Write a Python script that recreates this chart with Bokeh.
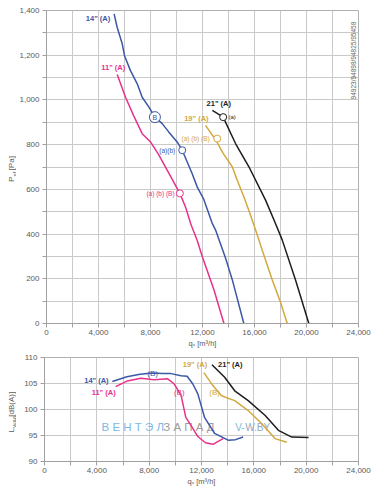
import math
from bokeh.plotting import figure
from bokeh.layouts import column, row
from bokeh.models import Range1d, NumeralTickFormatter, FixedTicker
from bokeh.core.properties import value
from bokeh.embed import file_html
from bokeh.resources import INLINE

FONT = "Liberation Sans"
BLUE = "#3b57a8"
PINK = "#e8318b"
GOLD = "#d2a83f"
BLACK = "#1e1e1e"
GRID = "#c9c9c9"
TICKC = "#5a5a5a"

# ---------------- pressure curves (q in m3/h, P in Pa) ----------------
q_14 = [5200, 5440, 5830, 6000, 6460, 6980, 7360, 7880, 8340, 8900, 9400, 10050, 10440,
        11200, 11600, 12100, 12740, 13000, 13770, 14290, 15180]
p_14 = [1385, 1324, 1250, 1198, 1131, 1072, 1012, 968, 923, 894, 857, 812, 775,
        671, 610, 555, 449, 419, 293, 196, 0]

q_11 = [5440, 6080, 6700, 7360, 8000, 8650, 9420, 10260, 10700, 11100, 11600, 11980, 12880, 13650]
p_11 = [1114, 1012, 930, 849, 812, 753, 671, 582, 520, 445, 370, 300, 151, 0]

q_19 = [12230, 13000, 13600, 14290, 14670, 15180, 15600, 16080, 16700, 17360, 18000, 18520]
p_19 = [886, 823, 760, 701, 641, 567, 500, 419, 310, 196, 95, 0]

q_21 = [12760, 13590, 14540, 15570, 16850, 17500, 18130, 19150, 20180]
p_21 = [953, 923, 805, 701, 552, 463, 374, 196, 0]

# ---------------- sound power curves (q in m3/h, L in dB(A)) ----------------
lq_14 = [5185, 6300, 7300, 8260, 9000, 9670, 10440, 10900, 11340, 11720, 12230, 13000, 14030, 14600, 15180]
lw_14 = [105.4, 106.3, 106.8, 107.0, 106.9, 106.9, 106.5, 106.4, 104.9, 103.0, 98.5, 95.4, 94.1, 94.2, 94.7]

lq_11 = [5440, 6340, 7360, 8380, 9420, 9920, 10440, 10800, 11300, 11720, 12300, 12880, 13650]
lw_11 = [104.4, 105.5, 106.0, 105.7, 105.9, 104.9, 102.7, 98.5, 96.5, 94.8, 93.6, 93.3, 94.4]

lq_19 = [12180, 12620, 12870, 13510, 13770, 14540, 15570, 16590, 17620, 18520]
lw_19 = [107.1, 105.5, 104.6, 102.7, 102.4, 101.7, 99.8, 97.3, 94.4, 93.7]

lq_21 = [12800, 13770, 14540, 15570, 16850, 17880, 18900, 20180]
lw_21 = [108.6, 106.2, 103.6, 101.7, 98.9, 96.0, 94.7, 94.6]

# ticks
x_ticks = [0, 4000, 8000, 12000, 16000, 20000, 24000]
x_minor = [2000, 6000, 10000, 14000, 18000, 22000]
p_ticks = [0, 200, 400, 600, 800, 1000, 1200, 1400]
p_minor = [100, 300, 500, 700, 900, 1100, 1300]
l_ticks = [90, 95, 100, 105, 110]

series_labels = ['14" (A)', '11" (A)', '19" (A)', '21" (A)']

STRIP_W = 16
MAIN_W = 384 - STRIP_W
TOP_H = 350
BOT_H = 141
TOP_B = dict(min_border_left=28, min_border_right=26, min_border_top=10, min_border_bottom=26)
BOT_B = dict(min_border_left=28, min_border_right=26, min_border_top=7, min_border_bottom=30)


def style_axes(fig, yt, ym):
    fig.xaxis.ticker = FixedTicker(ticks=x_ticks, minor_ticks=x_minor)
    fig.yaxis.ticker = FixedTicker(ticks=yt, minor_ticks=ym)
    fig.xgrid.ticker = FixedTicker(ticks=x_ticks, minor_ticks=x_minor)
    fig.ygrid.ticker = FixedTicker(ticks=yt, minor_ticks=ym)
    for g in (fig.xgrid, fig.ygrid):
        g.grid_line_color = GRID
        g.grid_line_width = 1
        g.minor_grid_line_color = GRID
        g.minor_grid_line_width = 1
    for ax in (fig.xaxis, fig.yaxis):
        ax.axis_line_color = "#a0a0a0"
        ax.major_tick_line_color = "#a0a0a0"
        ax.minor_tick_line_color = "#a0a0a0"
        ax.major_tick_out = 4
        ax.major_tick_in = 0
        ax.minor_tick_out = 4
        ax.minor_tick_in = 0
        ax.major_label_text_font = FONT
        ax.major_label_text_font_size = "8px"
        ax.major_label_text_color = TICKC
        ax.major_label_standoff = 3
        ax.axis_label_text_font = FONT
        ax.axis_label_text_font_size = "7.5px"
        ax.axis_label_text_font_style = "normal"
        ax.axis_label_text_color = TICKC
        ax.axis_label_standoff = 1
    fig.xaxis.major_label_standoff = 2
    fig.xaxis.formatter = NumeralTickFormatter(format="0,0")
    fig.yaxis.formatter = NumeralTickFormatter(format="0,0")
    fig.outline_line_color = "#b0b0b0"


def txt(fig, x, y, t, color, size="7.5px", align="left", style="bold", angle=0.0):
    fig.text(x=[x], y=[y], text=[t], text_color=color, text_font=value(FONT),
             text_font_size=size, text_align=align, text_baseline="middle",
             text_font_style=style, angle=angle)


def strip(yr, h, borders):
    s = figure(width=STRIP_W, height=h, x_range=Range1d(0, STRIP_W), y_range=yr,
               x_axis_type=None, y_axis_type=None, output_backend="svg", toolbar_location=None,
               min_border_left=0, min_border_right=0,
               min_border_top=borders["min_border_top"], min_border_bottom=borders["min_border_bottom"])
    s.outline_line_color = None
    s.xgrid.visible = False
    s.ygrid.visible = False
    return s


# ====================== top chart ======================
p = figure(width=MAIN_W, height=TOP_H, x_range=Range1d(0, 24000), y_range=Range1d(0, 1400),
           output_backend="svg", toolbar_location=None, **TOP_B)
style_axes(p, p_ticks, p_minor)
p.xaxis.axis_label = "qᵥ [m³/h]"

for qs, ps, c in ((q_11, p_11, PINK), (q_14, p_14, BLUE), (q_19, p_19, GOLD), (q_21, p_21, BLACK)):
    p.line(qs, ps, line_color=c, line_width=1.5)

txt(p, 4900, 1363, series_labels[0], BLUE, align="right")
txt(p, 5130, 1145, series_labels[1], PINK, align="center")
txt(p, 11530, 918, series_labels[2], GOLD, align="center")
txt(p, 13250, 982, series_labels[3], BLACK, align="center")

p.scatter([q_14[8]], [p_14[8]], size=11, marker="circle", fill_color="white", line_color=BLUE, line_width=1)
txt(p, q_14[8], p_14[8], "B", BLUE, size="7px", align="center", style="normal")
p.scatter([10440, 10260, 13130, 13590], [775, 582, 827, 923], size=7, marker="circle",
          fill_color="white", line_color=[BLUE, PINK, GOLD, BLACK], line_width=1)
txt(p, 9900, 775, "(a)(b)", BLUE, size="6.5px", align="right", style="normal")
txt(p, 9850, 582, "(a) (b) (B)", PINK, size="6.5px", align="right", style="normal")
txt(p, 12550, 827, "(a) (b) (B)", GOLD, size="6.5px", align="right", style="normal")
txt(p, 14000, 923, "(a)", BLACK, size="6px", align="left", style="normal")

txt(p, 23650, 1176, "94923/94898/94825/95458", "#666666", size="6.5px", align="center",
    style="normal", angle=math.pi / 2)

s1 = strip(p.y_range, TOP_H, TOP_B)
for t, yy, xx, sz in (("P", 633, 11, "8px"), ("sf", 657, 14, "6px"), ("[Pa]", 685, 11, "8px")):
    s1.text(x=[xx], y=[yy], text=[t], angle=math.pi / 2, text_font=value(FONT), text_font_size=sz,
            text_color=TICKC, text_align="left", text_baseline="middle")

# ====================== bottom chart ======================
p2 = figure(width=MAIN_W, height=BOT_H, x_range=Range1d(0, 24000), y_range=Range1d(90, 110),
            output_backend="svg", toolbar_location=None, **BOT_B)
style_axes(p2, l_ticks, [])
p2.xaxis.axis_label = "qᵥ [m³/h]"

txt(p2, 4360, 96.6, "В Е Н Т Э Л", "#7db9e2", size="11.5px", style="normal")
txt(p2, 9080, 96.6, "З А П А Д", "#9c9c9c", size="11.5px", style="normal")
txt(p2, 14580, 96.6, "V-", "#7db9e2", size="10px", style="normal")
txt(p2, 15340, 96.6, "W.BY", "#8fa9c2", size="10px", style="normal")

for qs, ls, c in ((lq_11, lw_11, PINK), (lq_14, lw_14, BLUE), (lq_19, lw_19, GOLD), (lq_21, lw_21, BLACK)):
    p2.line(qs, ls, line_color=c, line_width=1.5)

txt(p2, 4900, 105.5, series_labels[0], BLUE, align="right")
txt(p2, 5440, 103.3, series_labels[1], PINK, align="right")
txt(p2, 11500, 108.6, series_labels[2], GOLD, align="center")
txt(p2, 14200, 108.6, series_labels[3], BLACK, align="center")
txt(p2, 8260, 107.0, "(B)", BLUE, size="8px", align="center", style="normal")
txt(p2, 10300, 103.3, "(B)", PINK, size="8px", align="center", style="normal")
txt(p2, 13000, 103.3, "(B)", GOLD, size="8px", align="center", style="normal")

s2 = strip(p2.y_range, BOT_H, BOT_B)
for t, yy, xx, sz in (("L", 95.6, 11, "8px"), ("WA6", 96.5, 14, "5.5px"), ("[dB(A)]", 98.6, 11, "8px")):
    s2.text(x=[xx], y=[yy], text=[t], angle=math.pi / 2, text_font=value(FONT), text_font_size=sz,
            text_color=TICKC, text_align="left", text_baseline="middle")

layout = column(row(s1, p, spacing=0), row(s2, p2, spacing=0), spacing=0)
open("out.html", "w").write(file_html(layout, INLINE))
